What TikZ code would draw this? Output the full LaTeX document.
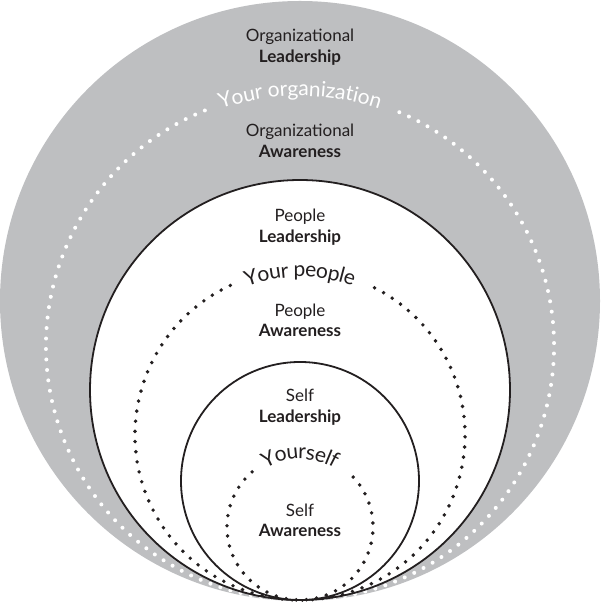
\documentclass[tikz,border=0pt]{standalone}
\usepackage{fontspec}
\setmainfont{Lato}
\usetikzlibrary{decorations.text}
\definecolor{ringgray}{HTML}{BEBFC1}
\definecolor{ink}{HTML}{231F20}
\newfontfamily\curvefam{Lato}
\newcommand{\curvefont}{\curvefam\fontsize{21}{21}\selectfont}
\begin{document}
\begin{tikzpicture}[x=1pt,y=1pt,
  ring/.style={draw=ink, line width=1.8pt, fill=white},
  dotsw/.style={draw=white, line width=4pt, line cap=round, dash pattern=on 0pt off 10.5pt},
  dotsb/.style={draw=ink, line width=3.9pt, line cap=round, dash pattern=on 0pt off 10.2pt},
  lbl/.style={font=\fontsize{17}{17}\selectfont, text=ink, anchor=base, inner sep=0pt},
  lblb/.style={lbl, font=\fontsize{17}{17}\selectfont\bfseries},
]
\useasboundingbox (0,0) rectangle (600,602);
% outer grey disc
\fill[ringgray] (300,301) circle[radius=300];
% white dotted ring: your organization
\draw[dotsw] (300,256) ++(112:254) arc[start angle=112, end angle=427, radius=254];
\path[decorate, decoration={text along path, text align=center, raise=-4pt, text color=white,
  text={|\curvefont|Your organization}}]
  (300,256) ++(150:254) arc[start angle=150, end angle=30, radius=254];
% middle solid circle
\draw[ring] (300,212) circle[radius=210];
% black dotted ring: your people
\draw[dotsb] (300,167) ++(115:165) arc[start angle=115, end angle=424, radius=165];
\path[decorate, decoration={text along path, text align=center, raise=-7pt, text color=ink,
  text={|\curvefont|Your people}}]
  (300,167) ++(160:165) arc[start angle=160, end angle=20, radius=165];
% inner solid circle
\draw[ring] (300,121) circle[radius=119];
% inner dotted ring: yourself
\draw[dotsb] (300,75) ++(131:73) arc[start angle=131, end angle=409, radius=73];
\path[decorate, decoration={text along path, text align=center, raise=-5pt, text color=ink,
  text={|\curvefont|Yourself}}]
  (300,75) ++(175:73) arc[start angle=175, end angle=5, radius=73];
% labels
\node[lbl]  (orgLeadA) at (300,560) {Organizational};
\node[lblb] (orgLeadB) at (300,539) {Leadership};
\node[lbl]  (orgAwA)   at (300,465) {Organizational};
\node[lblb] (orgAwB)   at (300,444) {Awareness};
\node[lbl]  (pplLeadA) at (300,380) {People};
\node[lblb] (pplLeadB) at (300,359) {Leadership};
\node[lbl]  (pplAwA)   at (300,285) {People};
\node[lblb] (pplAwB)   at (300,265) {Awareness};
\node[lbl]  (selfLeadA) at (300,200) {Self};
\node[lblb] (selfLeadB) at (300,179) {Leadership};
\node[lbl]  (selfAwA)   at (300,85) {Self};
\node[lblb] (selfAwB)   at (300,65) {Awareness};
\end{tikzpicture}
\end{document}
